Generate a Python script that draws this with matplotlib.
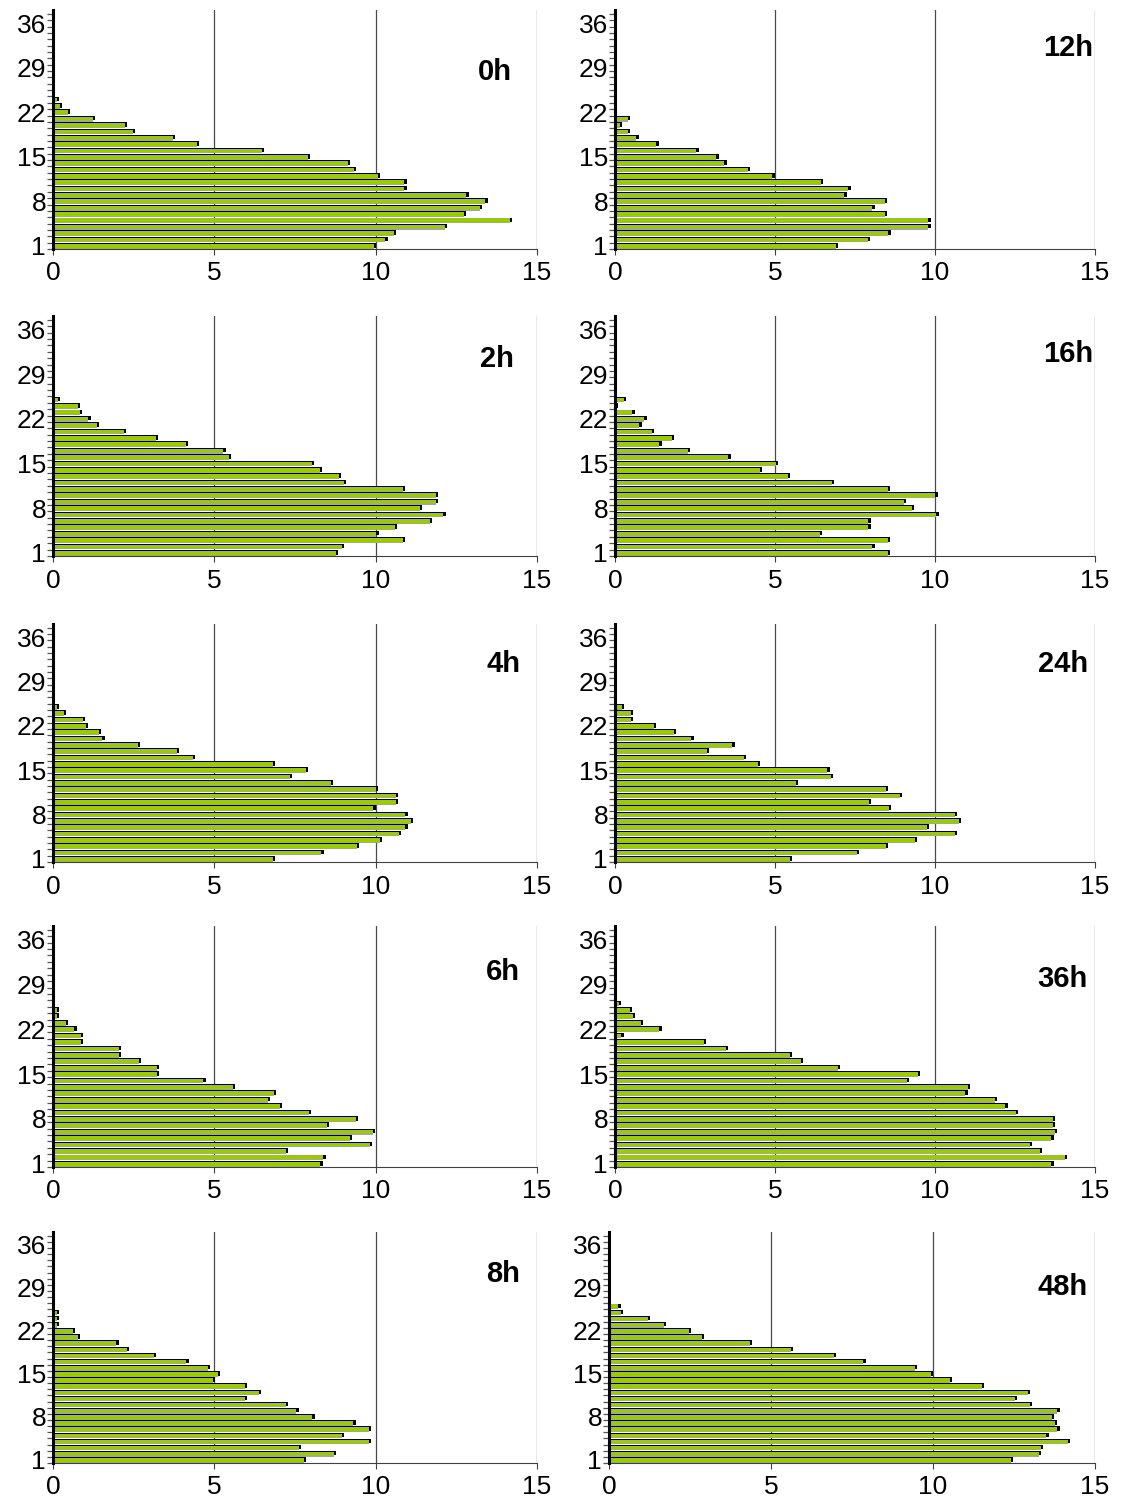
import matplotlib
matplotlib.use("Agg")
import matplotlib.pyplot as plt
import numpy as np

plt.rcParams['font.family'] = ['Liberation Sans', 'DejaVu Sans']

# ---- data -------------------------------------------------------------
categories = list(range(1, 38))
ytick_values = [1, 8, 15, 22, 29, 36]
xtick_values = [0, 5, 10, 15]

v_0h = [9.95, 10.30, 10.56, 12.15, 14.16, 12.73, 13.23, 13.40, 12.81, 10.89,
        10.89, 10.06, 9.33, 9.14, 7.89, 6.47, 4.46, 3.72, 2.47, 2.22,
        1.23, 0.47, 0.22, 0.13, 0, 0, 0, 0, 0, 0,
        0, 0, 0, 0, 0, 0, 0]
v_2h = [8.76, 8.95, 10.84, 10.02, 10.60, 11.69, 12.10, 11.36, 11.86, 11.86,
        10.84, 9.01, 8.87, 8.27, 8.03, 5.44, 5.28, 4.11, 3.18, 2.19,
        1.37, 1.10, 0.84, 0.77, 0.16, 0, 0, 0, 0, 0,
        0, 0, 0, 0, 0, 0, 0]
v_4h = [6.81, 8.32, 9.42, 10.13, 10.73, 10.92, 11.10, 10.92, 9.93, 10.62,
        10.62, 10.00, 8.62, 7.34, 7.83, 6.81, 4.33, 3.83, 2.63, 1.53,
        1.42, 1.02, 0.93, 0.33, 0.13, 0, 0, 0, 0, 0,
        0, 0, 0, 0, 0, 0, 0]
v_6h = [8.29, 8.38, 7.21, 9.83, 9.21, 9.92, 8.49, 9.39, 7.94, 7.02,
        6.66, 6.84, 5.57, 4.66, 3.22, 3.22, 2.67, 2.04, 2.04, 0.86,
        0.86, 0.66, 0.41, 0.13, 0.13, 0, 0, 0, 0, 0,
        0, 0, 0, 0, 0, 0, 0]
v_8h = [7.78, 8.70, 7.62, 9.78, 8.95, 9.78, 9.31, 8.04, 7.54, 7.21,
        5.95, 6.39, 5.95, 4.96, 5.12, 4.79, 4.13, 3.12, 2.29, 1.96,
        0.77, 0.61, 0.13, 0.13, 0.13, 0, 0, 0, 0, 0,
        0, 0, 0, 0, 0, 0, 0]
v_12h = [6.90, 7.91, 8.54, 9.79, 9.79, 8.43, 8.04, 8.43, 7.17, 7.29,
         6.43, 4.92, 4.16, 3.42, 3.17, 2.54, 1.29, 0.67, 0.41, 0.16,
         0.41, 0, 0, 0, 0, 0, 0, 0, 0, 0,
         0, 0, 0, 0, 0, 0, 0]
v_16h = [8.52, 8.04, 8.52, 6.41, 7.92, 7.92, 10.04, 9.27, 9.02, 10.01,
         8.52, 6.78, 5.41, 4.53, 5.03, 3.54, 2.27, 1.39, 1.78, 1.16,
         0.76, 0.92, 0.54, 0.03, 0.28, 0, 0, 0, 0, 0,
         0, 0, 0, 0, 0, 0, 0]
v_24h = [5.47, 7.56, 8.47, 9.38, 10.63, 9.74, 10.74, 10.63, 8.56, 7.93,
         8.91, 8.47, 5.66, 6.74, 6.64, 4.47, 4.02, 2.86, 3.67, 2.39,
         1.84, 1.21, 0.49, 0.49, 0.21, 0, 0, 0, 0, 0,
         0, 0, 0, 0, 0, 0, 0]
v_36h = [13.64, 14.06, 13.28, 12.97, 13.64, 13.75, 13.69, 13.69, 12.53, 12.20,
         11.88, 10.95, 11.03, 9.12, 9.46, 6.96, 5.80, 5.47, 3.46, 2.77,
         0.20, 1.39, 0.80, 0.55, 0.47, 0.11, 0, 0, 0, 0,
         0, 0, 0, 0, 0, 0, 0]
v_48h = [12.41, 13.26, 13.34, 14.17, 13.50, 13.84, 13.75, 13.66, 13.84, 13.00,
         12.52, 12.93, 11.50, 10.52, 9.93, 9.44, 7.85, 6.93, 5.61, 4.35,
         2.86, 2.46, 1.69, 1.20, 0.37, 0.29, 0, 0, 0, 0,
         0, 0, 0, 0, 0, 0, 0]

panel_labels = ["0h", "2h", "4h", "6h", "8h", "12h", "16h", "24h", "36h", "48h"]
panel_values = [v_0h, v_2h, v_4h, v_6h, v_8h, v_12h, v_16h, v_24h, v_36h, v_48h]

# ---- layout (pixels of a 1128 x 1499 canvas) ---------------------------
W, H = 1128, 1499
col_left = [53, 615]
col_right = [537, 1095]
row_top = [10, 316, 624, 926, 1232]
row_bottom = [249, 556, 862, 1167, 1463]
label_xy = [(0.913, 0.74), (0.917, 0.82), (0.93, 0.83), (0.93, 0.81), (0.93, 0.82),
            (0.944, 0.84), (0.944, 0.84), (0.933, 0.83), (0.933, 0.78), (0.933, 0.76)]

FACE = '#99cc00'
fig = plt.figure(figsize=(W / 100, H / 100), dpi=100)


def draw_panel(ax, values, label, lxy):
    y = np.array(categories, dtype=float)
    v = np.array(values, dtype=float)
    # underside shading
    ax.barh(y - 0.36, v, height=0.18, color='#a4a4a4', linewidth=0, zorder=2)
    # dark depth (top and right faces)
    ax.barh(y + 0.09, v + 0.07, height=0.72, color='black', linewidth=0, zorder=3)
    # front face
    ax.barh(y + 0.015, v, height=0.57, color=FACE, linewidth=0, zorder=4)

    ax.set_xlim(0, 15)
    ax.set_ylim(0.5, 38.1)

    for xv in xtick_values[1:-1]:
        ax.axvline(xv, color='#4a4a4a', lw=0.9, zorder=1)
    ax.axvline(xtick_values[-1], color='#8c8c8c', lw=1.0, zorder=1)

    for side in ('top', 'right'):
        ax.spines[side].set_visible(False)
    ax.spines['left'].set_linewidth(2.2)
    ax.spines['left'].set_color('black')
    ax.spines['left'].set_zorder(5)
    ax.spines['bottom'].set_linewidth(0.8)
    ax.spines['bottom'].set_color('#404040')

    ax.set_xticks(xtick_values)
    ax.set_xticklabels([str(t) for t in xtick_values])
    ax.set_yticks(ytick_values)
    ax.set_yticklabels([str(t) for t in ytick_values])
    ax.set_yticks([c + 0.5 for c in [0] + categories], minor=True)
    ax.tick_params(axis='y', which='major', length=0, pad=5, labelsize=19)
    ax.tick_params(axis='y', which='minor', length=4, width=0.9, color='#555555', direction='out')
    ax.tick_params(axis='x', which='major', length=4, width=0.8, color='#404040',
                   pad=5, labelsize=19)

    ax.text(lxy[0], lxy[1], label, transform=ax.transAxes, ha='center', va='center',
            fontsize=21, fontweight='bold')


for i, (vals, lab) in enumerate(zip(panel_values, panel_labels)):
    col, row = divmod(i, 5)
    left = col_left[col]
    if col == 1 and row == 4:
        left -= 6
    right = col_right[col]
    top, bottom = row_top[row], row_bottom[row]
    ax = fig.add_axes([left / W, 1 - bottom / H, (right - left) / W, (bottom - top) / H])
    draw_panel(ax, vals, lab, label_xy[i])

fig.savefig("out.png", dpi=100)
